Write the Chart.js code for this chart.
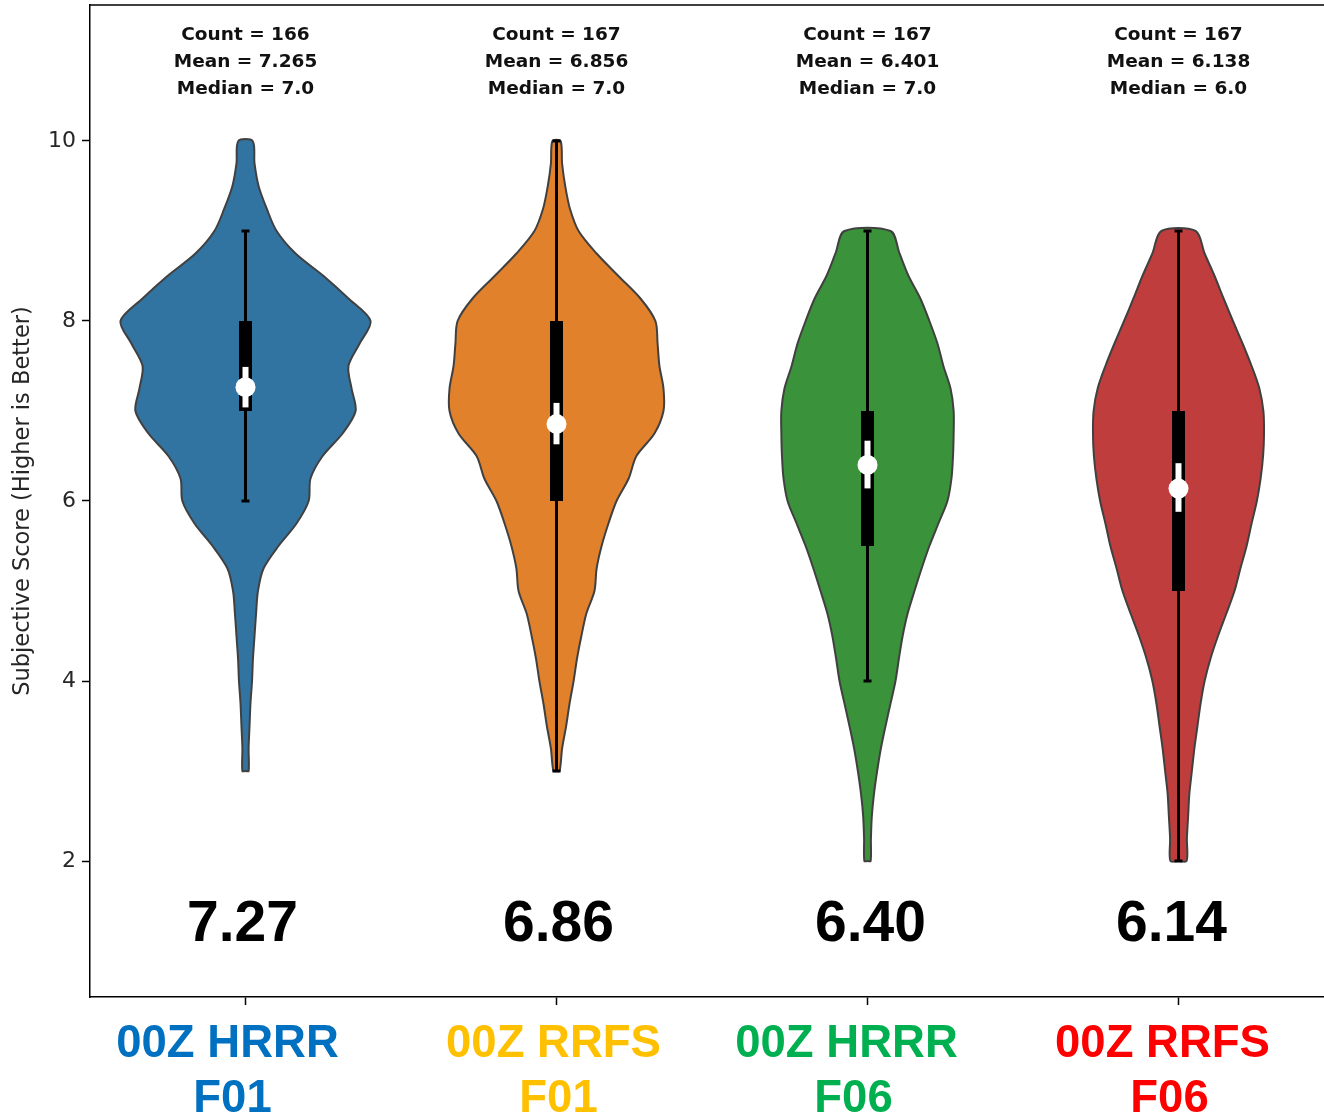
<!DOCTYPE html>
<html>
<head>
<meta charset="utf-8">
<script src="https://cdn.jsdelivr.net/npm/chart.js@4.4.0/dist/chart.umd.min.js"></script>
<style>
  html, body { margin: 0; padding: 0; background: #fff; overflow: hidden; }
  #wrap { width: 1344px; height: 1117px; }
</style>
</head>
<body>
<div id="wrap"><canvas id="c" width="1344" height="1117"></canvas></div>
<script>
// Forecast runs compared
const categories = [
  ['00Z HRRR', 'F01'],
  ['00Z RRFS', 'F01'],
  ['00Z HRRR', 'F06'],
  ['00Z RRFS', 'F06']
];
const labelColors = ['#0070c0', '#ffc000', '#00b050', '#ff0000'];
const violinColors = ['#3274a1', '#e1812c', '#3a923a', '#c03d3e'];

// Summary statistics per run
const counts  = [166, 167, 167, 167];
const means   = [7.265, 6.856, 6.401, 6.138];
const medians = [7.0, 7.0, 7.0, 6.0];
const q1      = [7.0, 6.0, 5.5, 5.0];
const q3      = [8.0, 8.0, 7.0, 7.0];
const whiskerLow  = [6, 3, 4, 2];
const whiskerHigh = [9, 10, 9, 9];
const ciLow  = [7.04, 6.63, 6.14, 5.88];
const ciHigh = [7.49, 7.09, 6.67, 6.42];

const yTicks = [2, 4, 6, 8, 10];

// Kernel density outlines: score levels and half-width of each violin (x-axis units)
const levelsHrrrF01 = [3, 3.25, 3.5, 3.75, 4, 4.25, 4.5, 4.75, 5, 5.25, 5.5, 5.75, 6, 6.25, 6.5, 6.75, 7, 7.25, 7.5, 7.75, 8, 8.25, 8.5, 8.75, 9, 9.25, 9.5, 9.75, 10];
const widthHrrrF01  = [0.010, 0.010, 0.013, 0.016, 0.021, 0.024, 0.029, 0.034, 0.040, 0.058, 0.106, 0.164, 0.203, 0.209, 0.248, 0.312, 0.354, 0.341, 0.331, 0.367, 0.402, 0.331, 0.251, 0.161, 0.100, 0.068, 0.042, 0.029, 0.023];

const levelsRrfsF01 = [3, 3.25, 3.5, 3.75, 4, 4.25, 4.5, 4.75, 5, 5.25, 5.5, 5.75, 6, 6.25, 6.5, 6.75, 7, 7.25, 7.5, 7.75, 8, 8.25, 8.5, 8.75, 9, 9.25, 9.5, 9.75, 10];
const widthRrfsF01  = [0.010, 0.018, 0.031, 0.042, 0.055, 0.066, 0.080, 0.096, 0.122, 0.129, 0.145, 0.167, 0.193, 0.232, 0.257, 0.315, 0.344, 0.344, 0.331, 0.325, 0.318, 0.270, 0.199, 0.129, 0.071, 0.043, 0.028, 0.018, 0.013];

const levelsHrrrF06 = [2, 2.25, 2.5, 2.75, 3, 3.25, 3.5, 3.75, 4, 4.25, 4.5, 4.75, 5, 5.25, 5.5, 5.75, 6, 6.25, 6.5, 6.75, 7, 7.25, 7.5, 7.75, 8, 8.25, 8.5, 8.75, 9];
const widthHrrrF06  = [0.010, 0.011, 0.014, 0.021, 0.031, 0.043, 0.058, 0.074, 0.090, 0.101, 0.113, 0.129, 0.151, 0.174, 0.199, 0.228, 0.257, 0.270, 0.275, 0.277, 0.277, 0.267, 0.244, 0.225, 0.199, 0.170, 0.132, 0.103, 0.074];

const levelsRrfsF06 = [2, 2.25, 2.5, 2.75, 3, 3.25, 3.5, 3.75, 4, 4.25, 4.5, 4.75, 5, 5.25, 5.5, 5.75, 6, 6.25, 6.5, 6.75, 7, 7.25, 7.5, 7.75, 8, 8.25, 8.5, 8.75, 9];
const widthRrfsF06  = [0.026, 0.027, 0.031, 0.035, 0.043, 0.051, 0.061, 0.071, 0.084, 0.103, 0.127, 0.154, 0.180, 0.199, 0.219, 0.235, 0.252, 0.264, 0.272, 0.275, 0.273, 0.260, 0.235, 0.206, 0.175, 0.145, 0.116, 0.084, 0.055];

const violinLevels = [levelsHrrrF01, levelsRrfsF01, levelsHrrrF06, levelsRrfsF06];
const violinWidths = [widthHrrrF01, widthRrfsF01, widthHrrrF06, widthRrfsF06];

const yLabel = 'Subjective Score (Higher is Better)';

// Small horizontal nudges (px) for the category captions and the large mean labels
const captionNudge = [[-18, -13], [-3, 2], [-21, -14], [-16, -9]];
const meanLabelNudge = [-3, 2, 3, -7];

// Closed outline: from the bottom centre, up the right side, back down the left side
function outline(i) {
  const lv = violinLevels[i], w = violinWidths[i];
  const pts = [{ x: i, y: lv[0] }];
  for (let k = 0; k < lv.length; k++) pts.push({ x: i + w[k], y: lv[k] });
  for (let k = lv.length - 1; k >= 0; k--) pts.push({ x: i - w[k], y: lv[k] });
  pts.push({ x: i, y: lv[0] });
  return pts;
}

function round2(v) { return (Math.round(v * 100 + 1e-6) / 100).toFixed(2); }

const datasets = [];
categories.forEach((_, i) => {
  datasets.push({
    data: outline(i), showLine: true, fill: 'shape', tension: 0.3,
    backgroundColor: violinColors[i], borderColor: '#404040', borderWidth: 2,
    pointRadius: 0, order: 5
  });
  datasets.push({
    data: [{ x: i, y: whiskerLow[i] }, { x: i, y: whiskerHigh[i] }], showLine: true,
    borderColor: '#000', borderWidth: 3, pointStyle: 'line', pointRadius: 4,
    pointBorderWidth: 3, pointBorderColor: '#000', order: 4
  });
  datasets.push({
    data: [{ x: i, y: q1[i] }, { x: i, y: q3[i] }], showLine: true,
    borderColor: '#000', borderWidth: 13, borderCapStyle: 'butt', pointRadius: 0, order: 3
  });
  datasets.push({
    data: [{ x: i, y: ciLow[i] }, { x: i, y: ciHigh[i] }], showLine: true,
    borderColor: '#fff', borderWidth: 6, borderCapStyle: 'butt', pointRadius: 0, order: 2
  });
  datasets.push({
    data: [{ x: i, y: means[i] }], showLine: false,
    pointRadius: 10, pointBackgroundColor: '#fff', pointBorderColor: '#fff', pointBorderWidth: 0, order: 1
  });
});

// Frame, per-run statistics, large mean labels and category captions
const annotate = {
  id: 'annotate',
  afterDraw(chart) {
    const { ctx, chartArea, scales } = chart;
    ctx.save();
    ctx.textAlign = 'center';
    ctx.textBaseline = 'middle';
    categories.forEach((cat, i) => {
      const x = scales.x.getPixelForValue(i);
      ctx.fillStyle = '#111';
      ctx.font = 'bold 18.5px "DejaVu Sans"';
      ctx.fillText('Count = ' + counts[i], x, chartArea.top + 30);
      ctx.fillText('Mean = ' + means[i].toFixed(3), x, chartArea.top + 57);
      ctx.fillText('Median = ' + medians[i].toFixed(1), x, chartArea.top + 84);

      ctx.fillStyle = '#000';
      ctx.font = 'bold 57px "Liberation Sans"';
      ctx.fillText(round2(means[i]), x + meanLabelNudge[i], scales.y.getPixelForValue(1.29));

      ctx.fillStyle = labelColors[i];
      ctx.font = 'bold 45.5px "Liberation Sans"';
      ctx.fillText(cat[0], x + captionNudge[i][0], chartArea.bottom + 47);
      ctx.fillText(cat[1], x + captionNudge[i][1], chartArea.bottom + 102);
    });
    ctx.strokeStyle = '#000';
    ctx.lineWidth = 1.5;
    ctx.beginPath();
    ctx.moveTo(chartArea.left, chartArea.top);
    ctx.lineTo(chartArea.right, chartArea.top);
    ctx.lineTo(chartArea.right, chartArea.bottom);
    ctx.stroke();
    ctx.restore();
  }
};

new Chart(document.getElementById('c'), {
  type: 'scatter',
  data: { datasets },
  plugins: [annotate],
  options: {
    responsive: false,
    animation: false,
    devicePixelRatio: 1,
    layout: { autoPadding: false, padding: { top: 5, right: 10, left: 0, bottom: 0 } },
    plugins: { legend: { display: false }, tooltip: { enabled: false } },
    scales: {
      x: {
        type: 'linear', min: -0.5, max: 3.5,
        afterBuildTicks: s => { s.ticks = categories.map((_, i) => ({ value: i })); },
        afterFit: s => { s.height = 120; s.paddingLeft = 0; s.paddingRight = 0; },
        ticks: { callback: () => '', maxRotation: 0, autoSkip: false },
        grid: { drawOnChartArea: false, tickLength: 8, color: '#000', tickWidth: 1.5 },
        border: { color: '#000', width: 1.5 }
      },
      y: {
        type: 'linear', min: 0.489, max: 11.511,
        afterBuildTicks: s => { s.ticks = yTicks.map(v => ({ value: v })); },
        afterFit: s => { s.width = 90; s.paddingTop = 0; s.paddingBottom = 0; },
        ticks: {
          color: '#262626', padding: 6,
          font: { family: '"DejaVu Sans"', size: 22 }
        },
        title: {
          display: true, text: yLabel, color: '#262626',
          font: { family: '"DejaVu Sans"', size: 22.5 }, padding: { top: 10, bottom: 0 }
        },
        grid: { drawOnChartArea: false, tickLength: 8, color: '#000', tickWidth: 1.5 },
        border: { color: '#000', width: 1.5 }
      }
    }
  }
});
</script>
</body>
</html>
